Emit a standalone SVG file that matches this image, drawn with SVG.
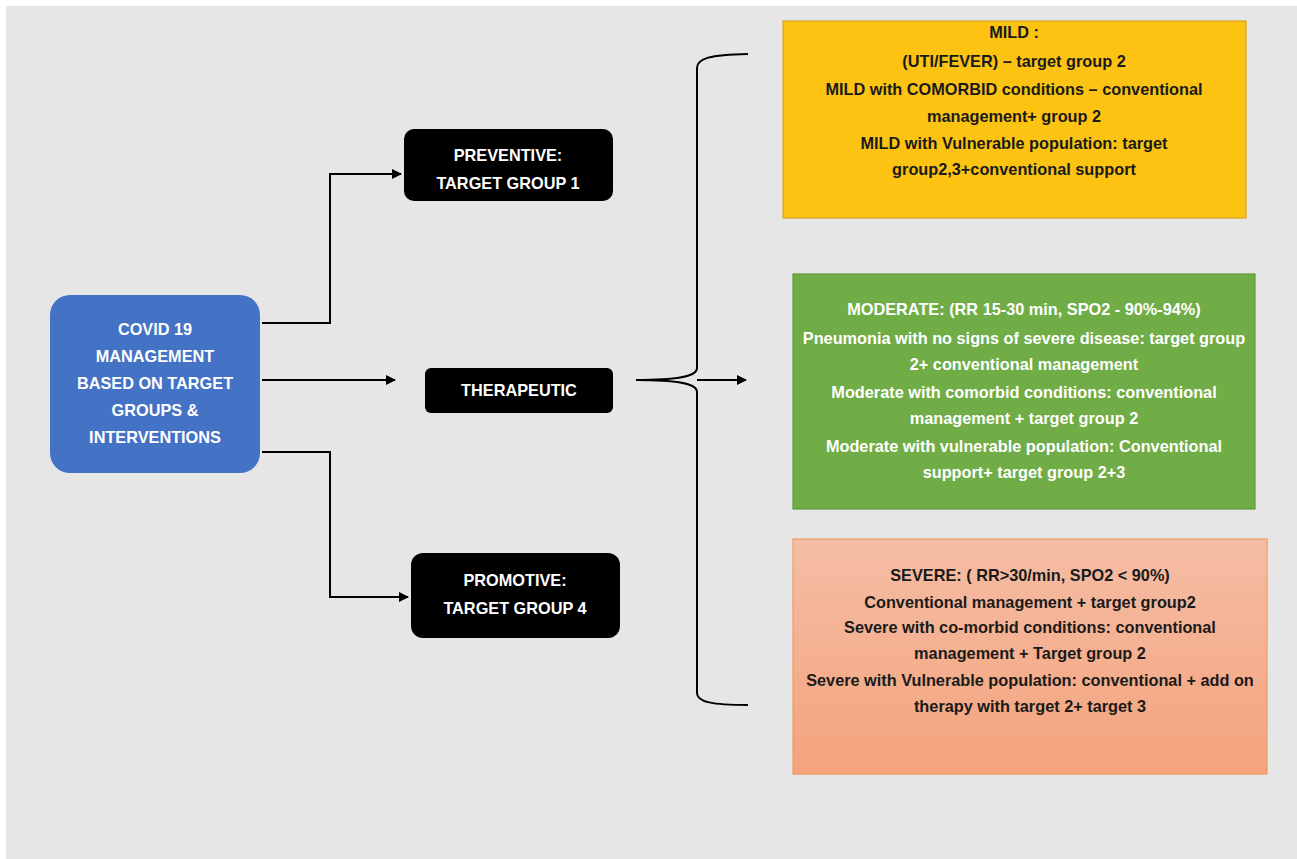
<svg xmlns="http://www.w3.org/2000/svg" width="1297" height="859" viewBox="0 0 1297 859">
<defs>
<style>
.t{font-family:"Liberation Sans",Arial,sans-serif;font-weight:bold;font-size:16.3px;text-anchor:middle}
.w{fill:#ffffff}
.k{fill:#1a1a1a}
.ln{fill:none;stroke:#000;stroke-width:2}
</style>
<marker id="ar" viewBox="0 0 10 10" refX="9" refY="5" markerWidth="5" markerHeight="5" orient="auto" markerUnits="strokeWidth">
<path d="M0,0 L10,5 L0,10 z" fill="#000"/>
</marker>
<linearGradient id="sev" x1="0" y1="0" x2="0" y2="1">
<stop offset="0" stop-color="#f5bda5"/>
<stop offset="1" stop-color="#f4a37c"/>
</linearGradient>
</defs>
<rect x="0" y="0" width="1297" height="859" fill="#ffffff"/>
<rect x="6" y="6" width="1291" height="853" fill="#e7e6e6"/>

<g id="connectors">
<path class="ln" d="M262,323 H330 V174 H401" marker-end="url(#ar)"/>
<path class="ln" d="M262,380 H395" marker-end="url(#ar)"/>
<path class="ln" d="M262,452 H330 V597 H408" marker-end="url(#ar)"/>
<path class="ln" d="M748,54 C710,55 697,58 697,68 V368 C697,376 680,380 636,380 C680,380 697,384 697,392 V693 C697,702 712,705 748,705"/>
<path class="ln" d="M697,380 H746" marker-end="url(#ar)"/>
</g>

<g id="covid">
<rect x="50" y="295" width="210" height="178" rx="20" fill="#4472c4"/>
<text class="t w"><tspan x="155" y="335">COVID 19</tspan><tspan x="155" y="362">MANAGEMENT</tspan><tspan x="155" y="389">BASED ON TARGET</tspan><tspan x="155" y="416">GROUPS &amp;</tspan><tspan x="155" y="443">INTERVENTIONS</tspan></text>
</g>

<g id="preventive">
<rect x="404" y="129" width="209" height="72" rx="10" fill="#000"/>
<text class="t w"><tspan x="508" y="161">PREVENTIVE:</tspan><tspan x="508" y="189">TARGET GROUP 1</tspan></text>
</g>

<g id="therapeutic">
<rect x="425" y="368" width="188" height="45" rx="6" fill="#000"/>
<text class="t w" x="519" y="396">THERAPEUTIC</text>
</g>

<g id="promotive">
<rect x="411" y="553" width="209" height="85" rx="12" fill="#000"/>
<text class="t w"><tspan x="515" y="586">PROMOTIVE:</tspan><tspan x="515" y="614">TARGET GROUP 4</tspan></text>
</g>

<g id="mild">
<rect x="783" y="21" width="463" height="197" fill="#fcc312" stroke="#d9a520" stroke-width="1.2"/>
<text class="t k"><tspan x="1014" y="38">MILD :</tspan><tspan x="1014" y="67">(UTI/FEVER) – target group 2</tspan><tspan x="1014" y="95">MILD with COMORBID conditions – conventional</tspan><tspan x="1014" y="122">management+ group 2</tspan><tspan x="1014" y="149">MILD with Vulnerable population: target</tspan><tspan x="1014" y="175">group2,3+conventional support</tspan></text>
</g>

<g id="moderate">
<rect x="793" y="274" width="462" height="235" fill="#70ad47" stroke="#5f9a3c" stroke-width="1.2"/>
<text class="t w"><tspan x="1024" y="315">MODERATE: (RR 15-30 min, SPO2 - 90%-94%)</tspan><tspan x="1024" y="344">Pneumonia with no signs of severe disease: target group</tspan><tspan x="1024" y="370">2+ conventional management</tspan><tspan x="1024" y="398">Moderate with comorbid conditions: conventional</tspan><tspan x="1024" y="424">management + target group 2</tspan><tspan x="1024" y="452">Moderate with vulnerable population: Conventional</tspan><tspan x="1024" y="478">support+ target group 2+3</tspan></text>
</g>

<g id="severe">
<rect x="793" y="539" width="474" height="235" fill="url(#sev)" stroke="#ee9a62" stroke-width="1.2"/>
<text class="t k"><tspan x="1030" y="581">SEVERE: ( RR&gt;30/min, SPO2 &lt; 90%)</tspan><tspan x="1030" y="608">Conventional management + target group2</tspan><tspan x="1030" y="633">Severe with co-morbid conditions: conventional</tspan><tspan x="1030" y="659">management + Target group 2</tspan><tspan x="1030" y="686">Severe with Vulnerable population: conventional + add on</tspan><tspan x="1030" y="712">therapy with target 2+ target 3</tspan></text>
</g>
</svg>
